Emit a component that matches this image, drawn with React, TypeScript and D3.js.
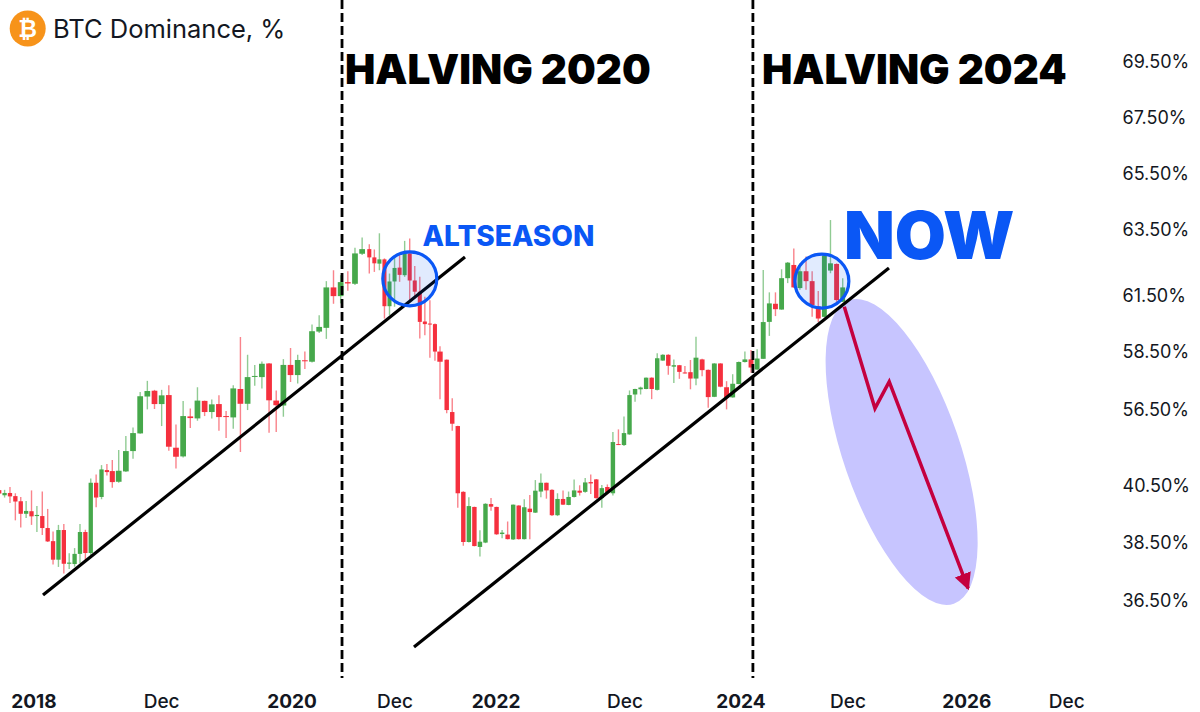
import React from 'react';
import * as d3 from 'd3';

const WIDTH = 1200;
const HEIGHT = 712;

// Price axis: the labels are not evenly spaced in value, so the scale is piecewise
const yTickValues = [69.5, 67.5, 65.5, 63.5, 61.5, 58.5, 56.5, 40.5, 38.5, 36.5];
const yTickPixels = [61, 117, 173, 229, 295, 351, 409, 485, 542, 600];

// Candle spacing changes along the chart, so the index scale is piecewise too
const xAnchorIndex = [0, 21, 22, 57, 71, 72, 117, 141];
const xAnchorPixels = [-0.8, 112.3, 118.7, 369.3, 440, 446.7, 696, 842.7];

const xTickLabels = ['2018', 'Dec', '2020', 'Dec', '2022', 'Dec', '2024', 'Dec', '2026', 'Dec'];
const xTickIndex = [6.46, 28, 46.2, 62.09, 80.9, 104.18, 124.35, 141.87, 161.31, 177.65];

const opens = [
  40.32, 40.14, 40.22, 40.11, 39.93, 39.49, 39.58, 39.41, 39.41, 38.99,
  38.53, 37.89, 38.92, 37.75, 37.74, 38.09, 38.85, 38.12, 40.97, 40.08,
  43.64, 43.43, 41.18, 43.36, 47.64, 51.36, 56.93, 57.13, 56.67, 56.98,
  48.35, 46.52, 54.94, 54.52, 56.78, 55.86, 56.67, 55.01, 54.73, 57.19,
  56.68, 57.62, 57.6, 58.07, 56.79, 56.62, 58.02, 57.67, 58.18, 58.13,
  59.54, 59.74, 61.73, 61.44, 61.89, 61.84, 62.75, 62.89, 62.64, 62.45,
  62.58, 60.9, 61.91, 62.33, 62.1, 62.76, 61.94, 61.6, 60.08, 59.97,
  59.94, 58.48, 58.2, 55.86, 52.91, 40.26, 38.5, 39.73, 38.33, 38.48,
  39.83, 39.73, 38.78, 38.76, 38.59, 39.78, 38.6, 39.67, 39.53, 40.27,
  40.97, 40.33, 39.44, 40.01, 39.8, 40.08, 40.3, 40.26, 41.11, 41.68,
  40.04, 40.43, 40.21, 49.12, 48.91, 51.15, 57.0, 57.18, 57.19, 57.58,
  57.16, 58.17, 58.37, 57.96, 58.01, 57.76, 57.77, 57.55, 58.21, 57.85,
  56.92, 58.07, 57.25, 56.9, 57.36, 58.12, 58.21, 57.86, 58.23, 60.06,
  61.03, 60.72, 62.01, 62.41, 61.71, 62.22, 61.92, 60.89, 60.33, 62.24,
  62.44, 61.14,
];

const highs = [
  48.23, 40.33, 40.43, 40.21, 40.08, 39.94, 40.31, 39.76, 40.27, 39.66,
  38.87, 39.1, 39.13, 38.11, 38.29, 39.13, 38.93, 41.89, 42.73, 44.69,
  44.9, 45.75, 47.85, 50.8, 52.63, 57.09, 57.47, 57.16, 57.16, 57.32,
  53.26, 56.78, 56.52, 57.25, 56.79, 56.83, 56.97, 56.07, 57.32, 59.25,
  58.37, 58.02, 58.14, 58.09, 57.14, 58.22, 58.66, 58.37, 58.48, 59.92,
  60.42, 61.92, 62.25, 62.1, 62.22, 62.93, 63.24, 63.04, 62.88, 63.37,
  62.61, 62.15, 62.66, 62.71, 63.14, 63.21, 62.38, 62.05, 61.4, 61.22,
  59.97, 58.75, 58.21, 56.87, 52.95, 40.28, 40.07, 39.74, 38.91, 39.86,
  40.04, 39.74, 38.92, 39.22, 39.82, 39.79, 40.0, 40.15, 41.54, 42.94,
  41.0, 40.35, 40.21, 40.31, 40.27, 41.68, 40.49, 41.96, 42.73, 41.75,
  40.5, 40.62, 51.64, 52.21, 54.94, 57.14, 57.2, 57.27, 57.59, 57.59,
  58.42, 58.39, 58.39, 58.21, 58.02, 57.98, 58.19, 59.26, 58.23, 57.86,
  58.08, 58.08, 57.46, 57.7, 58.14, 58.48, 58.55, 58.59, 62.26, 61.58,
  61.58, 62.28, 62.5, 62.91, 62.46, 62.67, 62.22, 61.62, 62.74, 63.82,
  62.46, 62.01,
];

const lows = [
  40.15, 40.06, 39.87, 39.26, 39.01, 39.34, 39.1, 38.85, 38.75, 38.5,
  37.72, 37.64, 37.41, 37.57, 37.65, 37.77, 37.88, 38.05, 39.72, 40.0,
  42.52, 40.4, 40.97, 43.22, 46.03, 51.29, 56.42, 56.5, 52.91, 47.71,
  44.0, 46.31, 52.49, 54.03, 55.01, 54.52, 51.93, 50.38, 52.35, 47.45,
  56.28, 57.3, 57.21, 51.5, 51.64, 54.87, 57.43, 57.38, 57.88, 58.1,
  59.47, 59.15, 61.03, 61.05, 61.63, 61.8, 62.71, 62.15, 62.2, 62.25,
  60.24, 60.42, 60.87, 61.9, 62.05, 61.22, 61.31, 59.17, 59.34, 58.27,
  58.16, 56.84, 55.58, 51.93, 39.7, 38.37, 38.48, 38.35, 38.0, 38.46,
  39.6, 38.75, 38.63, 38.59, 38.57, 38.59, 38.59, 38.6, 39.52, 40.07,
  40.02, 39.41, 39.41, 39.8, 39.79, 40.06, 40.13, 40.23, 40.18, 40.02,
  39.7, 40.18, 40.13, 48.91, 48.7, 51.08, 56.75, 57.0, 57.18, 56.84,
  57.14, 58.16, 57.68, 57.4, 57.54, 57.72, 57.18, 57.32, 57.63, 56.54,
  56.91, 57.25, 56.42, 56.89, 57.35, 58.1, 57.75, 57.85, 58.22, 59.31,
  60.37, 60.71, 61.86, 61.72, 61.66, 61.66, 60.33, 60.06, 60.3, 62.16,
  61.05, 61.12,
];

const closes = [
  40.2, 40.22, 40.1, 39.92, 39.49, 39.59, 39.4, 39.45, 38.99, 38.52,
  37.89, 38.92, 37.75, 37.79, 38.09, 38.85, 38.12, 40.97, 40.06, 43.78,
  43.22, 41.11, 43.5, 47.64, 51.43, 56.94, 57.12, 56.67, 56.97, 48.56,
  46.45, 55.01, 54.59, 56.79, 55.86, 56.66, 54.8, 54.8, 57.21, 56.68,
  57.6, 57.64, 58.06, 56.8, 56.63, 58.02, 57.67, 58.19, 58.16, 59.56,
  59.79, 61.73, 61.44, 61.89, 61.85, 62.76, 62.89, 62.64, 62.46, 62.58,
  60.9, 61.91, 62.32, 62.11, 62.76, 61.94, 61.6, 60.06, 59.94, 59.95,
  58.48, 58.13, 56.28, 53.4, 40.21, 38.5, 39.76, 38.36, 38.51, 39.84,
  39.74, 38.77, 38.83, 38.6, 39.81, 38.6, 39.72, 39.55, 40.3, 40.97,
  40.31, 39.44, 40.01, 39.81, 40.08, 40.31, 40.23, 41.04, 40.83, 40.04,
  40.39, 40.24, 49.54, 48.98, 51.43, 56.98, 57.19, 57.24, 57.58, 57.19,
  58.25, 58.37, 57.99, 58.01, 57.78, 57.74, 57.55, 58.27, 57.84, 56.91,
  58.07, 57.27, 56.89, 57.37, 58.12, 58.21, 57.93, 58.24, 60.05, 61.05,
  60.74, 62.01, 62.48, 61.73, 62.22, 61.92, 60.96, 60.24, 62.7, 62.46,
  61.23, 61.73,
];

// Annotations, as [candle index, value]
const trendLines = [
  [[8.13, 36.67], [75.3, 62.65]],
  [[65.85, 34.88], [148.57, 62.32]],
];
const halvingIndex = [53.19, 126.31];
const halvingLabels = ['HALVING 2020', 'HALVING 2024'];
const halvingLabelIndex = [53.6, 127.78];
const circleCenters = [[65.02, 61.99], [137.59, 61.92]];
const forecastCenter = [150.64, 47.45];
const forecastPath = [[141.26, 60.87], [146.28, 56.52], [148.61, 57.44], [161.52, 36.9]];

const UP = '#46a84b';
const DOWN = '#f5303e';
const BLUE = '#0a57f5';
const FONT = 'Inter, sans-serif';

const x = d3.scaleLinear().domain(xAnchorIndex).range(xAnchorPixels);
const y = d3.scaleLinear().domain(yTickValues).range(yTickPixels);

const line = d3.line<number[]>().x(d => x(d[0])).y(d => y(d[1]));

export default function App() {
  const fx = forecastCenter[0];
  const fy = forecastCenter[1];

  return (
    <svg
      width={WIDTH}
      height={HEIGHT}
      viewBox={`0 0 ${WIDTH} ${HEIGHT}`}
      style={{ position: 'absolute', left: 0, top: 0, display: 'block', background: '#fff' }}
      fontFamily={FONT}
    >
      <defs>
        <marker
          id="arrowHead"
          markerUnits="userSpaceOnUse"
          markerWidth={20}
          markerHeight={20}
          viewBox="0 -10 20 20"
          refX={15}
          refY={0}
          orient="auto"
        >
          <path d="M0,-8.5 L17,0 L0,8.5 Z" fill="#c4003f" />
        </marker>
      </defs>

      {/* candles */}
      <g>
        {opens.map((open, i) => {
          const close = closes[i];
          const color = close >= open ? UP : DOWN;
          const cx = x(i);
          const w = (x(i + 1) - cx) * 0.8;
          const top = y(Math.max(open, close));
          const bottom = y(Math.min(open, close));
          return (
            <g key={i}>
              <line x1={cx} x2={cx} y1={y(highs[i])} y2={y(lows[i])} stroke={color} strokeWidth={1.4} strokeOpacity={0.6} />
              <rect x={cx - w / 2} y={top} width={w} height={Math.max(bottom - top, 1)} fill={color} />
            </g>
          );
        })}
      </g>

      {/* forecast ellipse */}
      <ellipse
        cx={x(fx)}
        cy={y(fy)}
        rx={58.4}
        ry={160.5}
        fill="#c7c5ff"
        transform={`rotate(-19 ${x(fx)} ${y(fy)})`}
      />

      {/* trend lines */}
      {trendLines.map((pts, i) => (
        <path key={i} d={line(pts) as string} fill="none" stroke="#000" strokeWidth={3.2} />
      ))}

      {/* halving markers */}
      {halvingIndex.map((h, i) => (
        <g key={h}>
          <line x1={x(h)} x2={x(h)} y1={0} y2={678} stroke="#000" strokeWidth={2.8} strokeDasharray="9 4" />
          <text x={x(halvingLabelIndex[i])} y={83.5} fontSize={40.5} fontWeight={900} fill="#000">
            {halvingLabels[i]}
          </text>
        </g>
      ))}

      {/* altseason circles */}
      {circleCenters.map((c, i) => (
        <circle
          key={i}
          cx={x(c[0])}
          cy={y(c[1])}
          r={27}
          fill={BLUE}
          fillOpacity={0.12}
          stroke={BLUE}
          strokeWidth={3.2}
        />
      ))}

      {/* forecast arrow */}
      <path
        d={line(forecastPath) as string}
        fill="none"
        stroke="#c4003f"
        strokeWidth={3.5}
        markerEnd="url(#arrowHead)"
      />

      <text x={422.5} y={246} fontSize={28} fontWeight={800} fill={BLUE}>ALTSEASON</text>
      <text x={844} y={259} fontSize={66} fontWeight={900} fill={BLUE}>NOW</text>

      {/* title */}
      <circle cx={27.7} cy={28.5} r={18} fill="#f7931a" />
      <text
        x={27.7}
        y={36.5}
        textAnchor="middle"
        fontSize={23}
        fontWeight={700}
        fontFamily="'DejaVu Sans', sans-serif"
        fill="#fff"
      >
        ₿
      </text>
      <text x={53} y={37.5} fontSize={25.5} fill="#131722">BTC Dominance, %</text>

      {/* axes */}
      {yTickValues.map(v => (
        <text key={v} x={1122.5} y={y(v) + 7} fontSize={18} fill="#131722">
          {v.toFixed(2)}%
        </text>
      ))}
      {xTickLabels.map((label, i) => (
        <text
          key={i}
          x={x(xTickIndex[i])}
          y={707.5}
          textAnchor="middle"
          fontSize={19}
          fontWeight={label === 'Dec' ? 500 : 700}
          fill="#131722"
        >
          {label}
        </text>
      ))}
    </svg>
  );
}
